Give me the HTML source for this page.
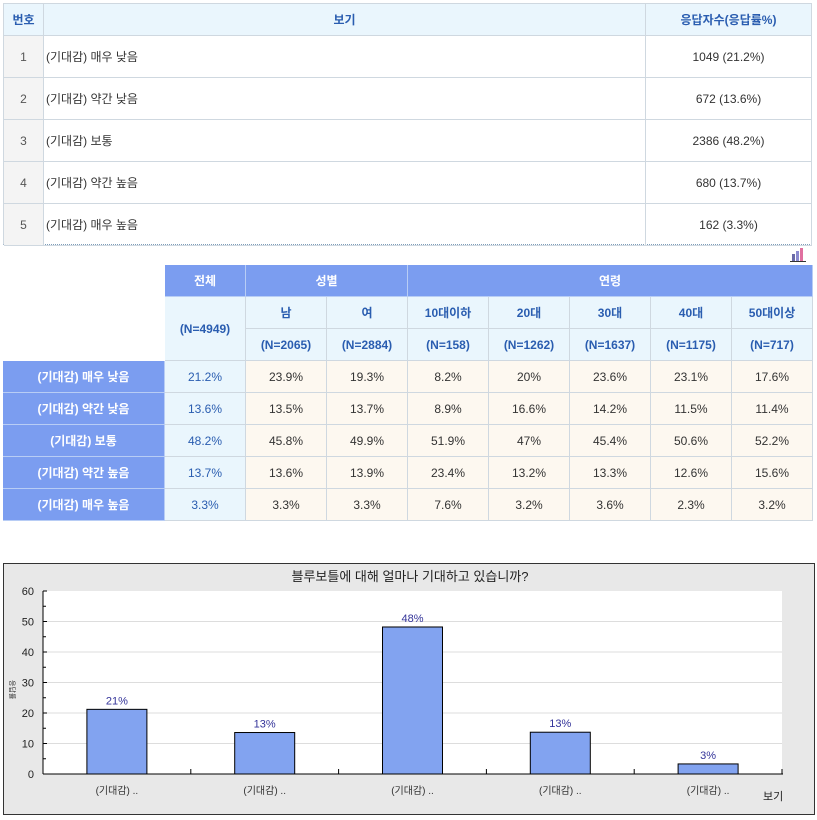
<!DOCTYPE html>
<html><head><meta charset="utf-8"><style>
body{margin:0;width:817px;height:820px;background:#fff;font-family:"Liberation Sans","Noto Sans CJK KR",sans-serif;font-size:12px;color:#333;position:relative;overflow:hidden}
.c{position:absolute;box-sizing:border-box;display:flex;align-items:center;justify-content:center;border-right:1px solid #cfd8e0;border-bottom:1px solid #cfd8e0}
.h{background:#eaf6fd;color:#2a5db0;font-weight:bold}
.b{background:#7b9df0;color:#fff;font-weight:bold;border-color:#b8cdf5}
.t{background:#eaf6fd;color:#2a5db0}
.o{background:#fdf8f0;color:#333}
</style></head><body>
<div style="position:absolute;left:3px;top:3px;width:809px;height:242px;border:1px solid #cfd8e0;border-bottom:1px dotted #7f9db9;box-sizing:border-box"></div>
<div id="t1"></div>
<div id="t2"></div>
<div style="position:absolute;left:790px;top:248px;width:16px;height:14px">
<div style="position:absolute;left:2px;bottom:1px;width:3px;height:7px;background:#6a6aa8"></div>
<div style="position:absolute;left:6px;bottom:1px;width:3px;height:10px;background:#8a8ad0"></div>
<div style="position:absolute;left:10px;bottom:1px;width:3px;height:13px;background:#e070a0"></div>
<div style="position:absolute;left:0;bottom:0;width:16px;height:1px;background:#333"></div></div>
<svg width="817" height="820" style="position:absolute;left:0;top:0" id="chart"></svg>
<script>
function cell(parent,x,y,w,h,txt,cls,name,extra){
  const d=document.createElement('div');
  
  
  d.className='c '+cls;
  d.style.left=x+'px';d.style.top=y+'px';d.style.width=w+'px';d.style.height=h+'px';
  if(extra)Object.assign(d.style,extra);
  d.textContent=txt;document.body.appendChild(d);return d;
}
// table 1
const opts=["(기대감) 매우 낮음","(기대감) 약간 낮음","(기대감) 보통","(기대감) 약간 높음","(기대감) 매우 높음"];
const counts=["1049 (21.2%)","672 (13.6%)","2386 (48.2%)","680 (13.7%)","162 (3.3%)"];
cell(null,4,4,40,32,"번호","h","header-number");
cell(null,44,4,602,32,"보기","h","header-option");
cell(null,646,4,166,32,"응답자수(응답률%)","h","header-count");
for(let i=0;i<5;i++){
  const y=36+i*42;
  cell(null,4,y,40,42,String(i+1),"","row-number",{background:'#f4f4f4',color:'#555'});
  cell(null,44,y,602,42,opts[i],"","row-option",{justifyContent:'flex-start',paddingLeft:'2px'});
  cell(null,646,y,166,42,counts[i],"","row-count");
}
// table 2
const cols=[165,246,327,408,489,570,651,732,813];
const groups=["남","여","10대이하","20대","30대","40대","50대이상"];
const ns=["(N=2065)","(N=2884)","(N=158)","(N=1262)","(N=1637)","(N=1175)","(N=717)"];
const tbl=[["21.2%","23.9%","19.3%","8.2%","20%","23.6%","23.1%","17.6%"],
["13.6%","13.5%","13.7%","8.9%","16.6%","14.2%","11.5%","11.4%"],
["48.2%","45.8%","49.9%","51.9%","47%","45.4%","50.6%","52.2%"],
["13.7%","13.6%","13.9%","23.4%","13.2%","13.3%","12.6%","15.6%"],
["3.3%","3.3%","3.3%","7.6%","3.2%","3.6%","2.3%","3.2%"]];
cell(null,165,265,81,32,"전체","b","header-total");
cell(null,246,265,162,32,"성별","b","header-gender");
cell(null,408,265,405,32,"연령","b","header-age");
cell(null,165,297,81,64,"(N=4949)","h","total-n");
for(let j=0;j<7;j++){
  cell(null,cols[j+1],297,81,32,groups[j],"h","group-header");
  cell(null,cols[j+1],329,81,32,ns[j],"h","group-n");
}
for(let i=0;i<5;i++){
  const y=361+i*32;
  cell(null,3,y,162,32,opts[i],"b","row-label");
  for(let j=0;j<8;j++) cell(null,cols[j],y,81,32,tbl[i][j],j==0?"t":"o","cross-cell");
}
</script>
<script>
const categories=["(기대감) ..","(기대감) ..","(기대감) ..","(기대감) ..","(기대감) .."];
const values=[21.2,13.6,48.2,13.7,3.3];
const valueLabels=["21%","13%","48%","13%","3%"];
const yTicks=[0,10,20,30,40,50,60];
const svg=document.getElementById('chart');
const NS='http://www.w3.org/2000/svg';
const X0=43,X1=782,Y0=774,Y1=591,YMAX=60;
const y=v=>Y0-(v/YMAX)*(Y0-Y1);
const bw=(X1-X0)/categories.length;
const x=i=>X0+bw*i+bw/2;
function el(tag,attrs,name,txt){const e=document.createElementNS(NS,tag);for(const k in attrs)e.setAttribute(k,attrs[k]);


if(txt!=null)e.textContent=txt;svg.appendChild(e);return e;}
el('rect',{x:3.5,y:563.5,width:811,height:251,fill:'#e8e8e8',stroke:'#333'},'chart-frame');
el('rect',{x:X0,y:Y1,width:X1-X0,height:Y0-Y1,fill:'#fff'},'plot-area');
el('text',{x:410,y:581,'text-anchor':'middle','font-size':13,fill:'#222','font-family':'Liberation Sans, Noto Sans CJK KR, sans-serif'},'chart-title','블루보틀에 대해 얼마나 기대하고 있습니까?');
yTicks.forEach(t=>{
  if(t>0&&t<YMAX)el('line',{x1:X0,x2:X1,y1:y(t),y2:y(t),stroke:'#ddd'},'grid-line');
  el('text',{x:34,y:y(t)+4,'text-anchor':'end','font-size':11,fill:'#222','font-family':'Liberation Sans, sans-serif'},'y-tick-label',t);
  el('line',{x1:X0,x2:X0+4,y1:y(t),y2:y(t),stroke:'#000'},'y-tick');
  if(t<YMAX)el('line',{x1:X0,x2:X0+3,y1:y(t+5),y2:y(t+5),stroke:'#000'},'y-minor-tick');
});
el('line',{x1:X0,x2:X0,y1:Y1,y2:Y0,stroke:'#000'},'y-axis');
el('line',{x1:X0,x2:X1+1,y1:Y0,y2:Y0,stroke:'#000'},'x-axis');
el('text',{x:10,y:680,'font-size':7,fill:'#333','font-family':'Noto Sans CJK KR, sans-serif',transform:'rotate(90 10 680)'},'y-axis-title','응답률');
for(let i=0;i<categories.length;i++){
  el('line',{x1:X0+bw*(i+1),x2:X0+bw*(i+1),y1:Y0,y2:Y0-5,stroke:'#000'},'x-tick');
  el('rect',{x:x(i)-30,y:y(values[i]),width:60,height:Y0-y(values[i]),fill:'#82a3f0',stroke:'#000'},'bar-'+(i+1));
  el('text',{x:x(i),y:y(values[i])-5,'text-anchor':'middle','font-size':11,fill:'#333399','font-family':'Liberation Sans, sans-serif'},'value-label',valueLabels[i]);
  el('text',{x:x(i),y:794,'text-anchor':'middle','font-size':10,fill:'#333','font-family':'Liberation Sans, Noto Sans CJK KR, sans-serif'},'x-tick-label',categories[i]);
}
el('text',{x:763,y:800,'font-size':11,fill:'#222','font-family':'Noto Sans CJK KR, sans-serif'},'x-axis-title','보기');
</script>
</body></html>
